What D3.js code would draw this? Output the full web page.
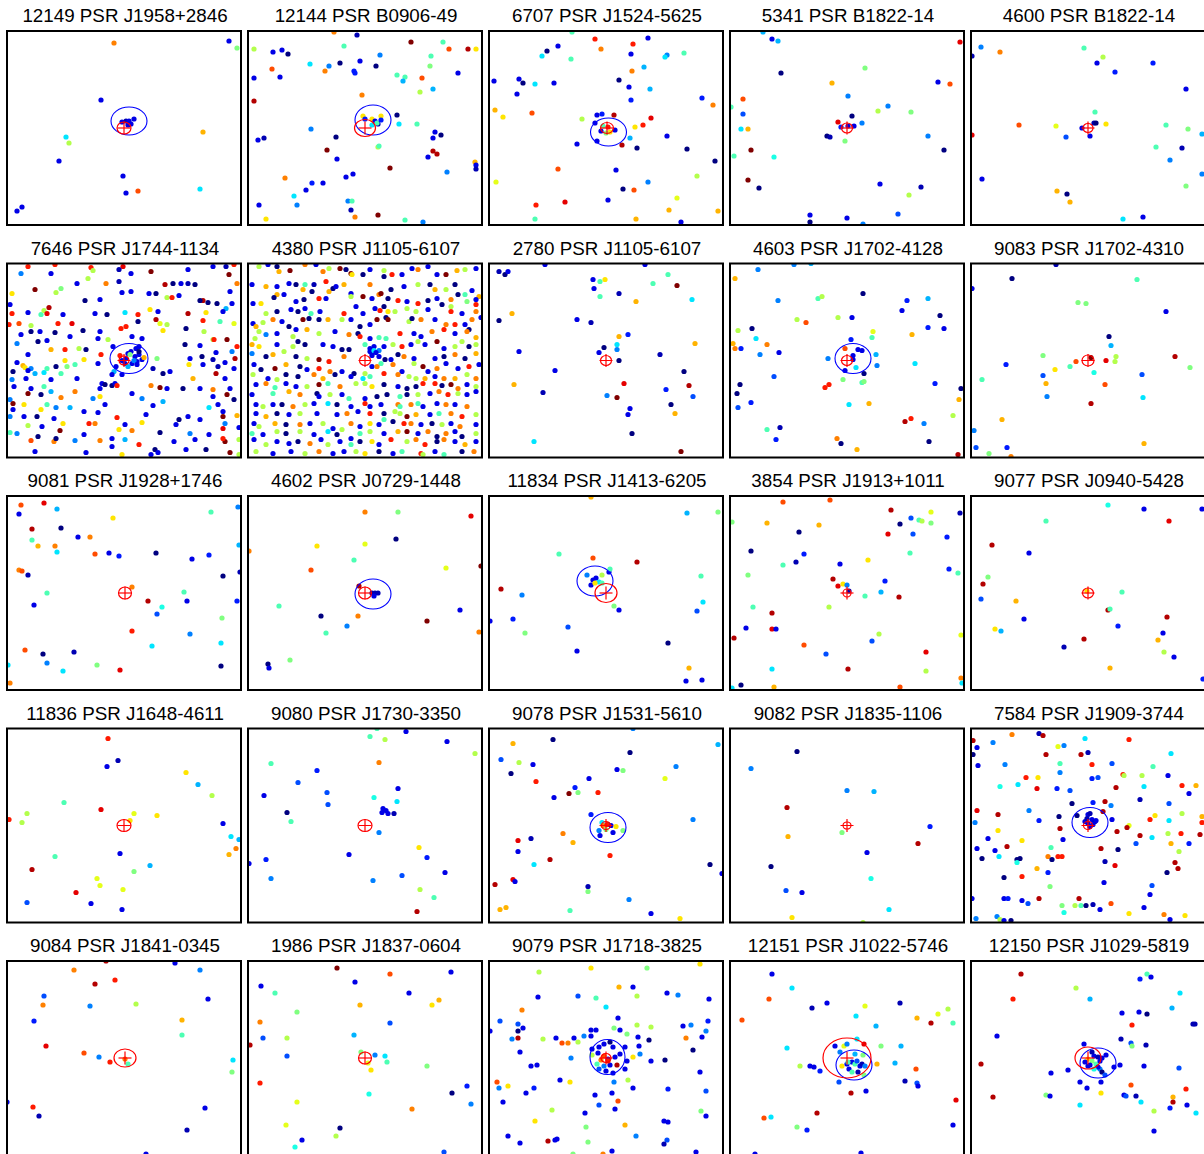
<!DOCTYPE html>
<html><head><meta charset="utf-8">
<script src="https://cdn.jsdelivr.net/npm/d3@7"></script>
<style>body{margin:0;background:#fff}svg{display:block}</style>
</head><body><svg id="chart" width="1204" height="1154"></svg>
<script>
// Field titles: observation id + pulsar name
const titles = [
  "12149 PSR J1958+2846","12144 PSR B0906-49","6707 PSR J1524-5625","5341 PSR B1822-14","4600 PSR B1822-14",
  "7646 PSR J1744-1134","4380 PSR J1105-6107","2780 PSR J1105-6107","4603 PSR J1702-4128","9083 PSR J1702-4310",
  "9081 PSR J1928+1746","4602 PSR J0729-1448","11834 PSR J1413-6205","3854 PSR J1913+1011","9077 PSR J0940-5428",
  "11836 PSR J1648-4611","9080 PSR J1730-3350","9078 PSR J1531-5610","9082 PSR J1835-1106","7584 PSR J1909-3744",
  "9084 PSR J1841-0345","1986 PSR J1837-0604","9079 PSR J1718-3825","12151 PSR J1022-5746","12150 PSR J1029-5819"
];

// Field grid: each field spans 234 x 194 grid units (x right, y down).
const FIELD_W = 234, FIELD_H = 194;

// Detected sources per field: [x, y, colour index 0..20 on the jet map]
const src12149 = [[107,12,15],[222,10,2],[230,17,10],[94,69,2],[115,91,2],[119,90,1],[122,90,2],[127,88,2],[124,93,2],[121,94,2],[59,106,7],[62,112,11],[196,101,14],[52,130,2],[116,145,2],[119,162,2],[131,160,16],[193,158,7],[15,176,2],[10,180,2]];
const src12144 = [[86,1,15],[109,4,1],[163,11,20],[195,11,9],[201,18,16],[220,18,19],[228,18,13],[6,18,11],[25,21,2],[34,19,2],[40,23,0],[96,15,9],[132,24,5],[183,25,9],[62,33,7],[81,35,5],[92,32,0],[112,30,2],[128,35,0],[182,35,10],[24,38,16],[77,40,15],[106,40,3],[107,42,3],[210,42,2],[149,44,9],[157,46,9],[174,47,16],[155,50,6],[6,47,2],[32,46,2],[185,58,6],[172,61,11],[114,64,15],[6,70,19],[115,85,13],[124,88,13],[133,85,13],[117,88,3],[127,90,2],[130,93,1],[129,92,9],[124,94,7],[133,89,3],[149,84,0],[151,93,7],[169,93,9],[63,98,5],[187,101,2],[193,104,0],[185,107,2],[88,106,0],[10,109,2],[16,107,1],[130,116,11],[131,115,9],[79,119,20],[89,128,2],[185,120,19],[189,123,19],[180,126,2],[227,131,14],[228,134,2],[228,138,1],[142,137,20],[199,141,5],[105,143,2],[98,146,2],[37,147,15],[75,152,2],[64,152,3],[58,159,2],[46,165,7],[49,174,5],[11,174,2],[100,170,5],[104,170,9],[103,179,1],[130,184,20],[107,186,15],[157,189,9],[175,191,5],[18,188,13]];
const src6707 = [[83,1,9],[106,8,17],[159,7,2],[144,13,17],[69,15,2],[58,20,0],[112,18,15],[142,23,2],[195,22,9],[178,24,5],[176,26,7],[53,25,7],[82,28,9],[155,36,6],[143,40,15],[5,50,2],[30,48,2],[34,52,0],[46,53,7],[65,52,2],[130,49,0],[140,56,2],[161,58,6],[28,63,2],[142,69,3],[213,67,3],[224,74,15],[6,79,14],[14,86,13],[43,82,16],[113,83,3],[108,84,2],[125,84,19],[93,88,11],[162,87,18],[154,94,17],[146,96,13],[106,92,2],[114,95,9],[121,101,13],[117,102,10],[126,99,2],[112,100,2],[119,96,17],[133,114,19],[148,117,0],[141,107,6],[108,110,2],[88,113,2],[178,105,2],[198,118,0],[226,130,0],[69,138,16],[127,139,2],[208,145,11],[7,151,12],[159,151,5],[134,158,0],[145,159,16],[119,169,2],[188,167,12],[76,171,18],[47,174,17],[180,179,14],[229,180,14],[46,188,9],[147,188,14],[192,191,2]];
const src5341 = [[33,1,6],[42,8,2],[48,10,6],[230,11,18],[51,42,0],[135,37,10],[102,52,14],[208,51,2],[220,53,16],[13,68,16],[118,65,5],[1,76,9],[13,83,4],[148,80,11],[158,75,5],[181,81,10],[122,85,0],[108,91,18],[132,92,5],[111,96,3],[118,95,2],[124,95,2],[11,98,7],[18,98,14],[97,105,0],[100,106,1],[115,110,10],[198,105,5],[214,119,0],[21,119,20],[4,125,9],[44,126,8],[18,149,20],[29,157,0],[150,153,2],[191,156,1],[179,164,11],[168,183,4],[80,184,2],[80,191,0],[117,187,2],[133,193,5]];
const src4600 = [[10,16,5],[1,25,1],[29,21,15],[113,17,9],[132,26,11],[126,32,2],[144,41,3],[182,32,3],[215,58,2],[124,81,9],[48,94,16],[85,95,12],[123,92,1],[125,92,0],[135,93,13],[111,97,2],[119,105,2],[95,106,4],[1,104,18],[195,94,9],[217,98,10],[231,103,6],[185,116,9],[211,117,1],[199,129,5],[231,143,5],[11,148,2],[215,155,10],[86,160,14],[96,163,0],[99,171,14],[152,188,7],[172,186,2]];
const src7646 = [[21,3,17],[48,1,17],[84,4,17],[116,3,18],[181,6,2],[206,3,2],[219,3,1],[227,1,17],[14,10,5],[44,10,2],[86,7,11],[112,6,1],[124,10,2],[144,8,20],[222,11,20],[5,30,13],[28,26,20],[49,29,11],[54,25,10],[70,20,2],[99,20,15],[81,15,11],[112,18,1],[115,29,2],[124,28,2],[142,30,2],[149,30,0],[158,21,19],[166,20,0],[174,20,2],[181,20,1],[188,21,0],[160,34,11],[165,34,17],[172,32,2],[230,20,15],[223,28,2],[93,36,2],[78,37,0],[3,41,2],[21,49,2],[34,51,9],[37,47,11],[40,50,18],[42,44,19],[5,50,17],[56,51,2],[88,50,2],[100,51,0],[118,49,7],[131,51,17],[143,46,13],[151,48,2],[181,50,19],[199,49,13],[196,37,19],[193,37,0],[201,39,0],[210,40,0],[219,45,6],[216,48,2],[225,40,2],[2,61,17],[12,60,16],[24,62,11],[51,60,17],[65,60,18],[76,67,0],[93,68,2],[114,65,17],[119,63,17],[131,58,0],[149,56,19],[153,60,12],[156,67,13],[160,61,11],[179,65,0],[196,57,17],[197,68,11],[213,58,9],[227,60,12],[14,71,2],[24,68,0],[33,68,2],[48,69,0],[63,73,2],[10,80,5],[31,78,0],[40,77,2],[91,75,2],[101,76,11],[106,83,2],[125,73,2],[135,75,2],[206,76,11],[207,76,17],[220,76,20],[178,81,0],[193,82,2],[230,83,17],[44,86,14],[58,86,17],[72,85,11],[79,86,0],[21,91,2],[94,91,17],[209,89,2],[225,88,5],[113,92,17],[119,95,2],[121,90,2],[124,88,2],[128,93,2],[130,98,2],[125,100,2],[132,91,2],[135,96,2],[118,100,2],[115,97,2],[129,85,2],[132,83,2],[123,91,10],[137,94,14],[132,88,0],[127,97,5],[130,101,2],[121,103,6],[150,95,10],[77,96,13],[58,97,13],[183,95,2],[195,93,0],[206,96,1],[218,99,2],[228,95,19],[10,99,2],[16,102,14],[18,104,13],[24,105,5],[40,105,9],[49,103,0],[60,103,10],[68,101,9],[91,100,2],[109,103,2],[107,108,6],[146,105,1],[156,110,0],[163,108,2],[182,101,13],[196,101,2],[211,103,1],[227,105,2],[6,108,0],[21,107,2],[28,110,6],[37,109,7],[54,110,9],[105,111,2],[115,111,2],[209,110,19],[186,115,14],[218,115,2],[5,116,5],[19,115,2],[44,116,2],[70,115,2],[95,120,2],[98,121,0],[105,122,0],[108,120,2],[93,125,2],[110,122,17],[144,122,15],[153,124,20],[7,123,2],[24,125,2],[37,123,9],[44,128,6],[68,128,15],[3,136,5],[21,130,20],[34,131,0],[54,134,15],[86,135,5],[93,133,13],[125,130,2],[135,135,5],[160,125,2],[176,125,0],[193,125,2],[206,126,15],[206,133,2],[220,131,20],[223,125,2],[227,136,0],[6,140,20],[17,141,13],[40,141,9],[49,144,5],[63,144,6],[77,148,2],[91,149,2],[98,141,2],[34,146,13],[6,146,2],[146,142,2],[156,138,6],[202,144,7],[211,141,2],[216,148,2],[3,153,5],[17,153,2],[30,153,0],[47,155,2],[110,154,17],[139,151,2],[172,156,0],[181,153,2],[216,153,20],[230,152,14],[21,162,11],[35,163,2],[82,160,17],[88,160,15],[56,160,13],[118,161,2],[135,159,13],[169,161,2],[193,156,2],[218,160,5],[112,166,13],[125,167,15],[53,167,20],[3,169,9],[10,170,5],[31,173,0],[77,171,2],[105,175,2],[153,169,0],[183,170,5],[202,171,2],[216,165,18],[232,164,2],[24,177,16],[47,178,15],[49,175,0],[68,177,5],[93,177,15],[118,176,6],[132,181,17],[105,183,2],[148,186,0],[144,191,2],[151,189,2],[167,178,2],[188,176,2],[218,178,20],[216,175,17],[232,176,11],[28,188,2],[79,189,2],[115,191,13],[179,186,2],[199,186,0],[223,189,20],[232,191,11]];
const src4380 = [[11,3,11],[20,1,2],[29,3,0],[31,8,14],[42,7,20],[57,1,15],[68,1,2],[75,8,15],[81,5,11],[92,5,20],[98,6,0],[103,10,20],[104,11,13],[115,11,0],[122,6,2],[136,7,11],[136,13,0],[144,11,17],[154,11,2],[164,5,2],[170,6,15],[180,3,2],[189,11,2],[198,11,20],[209,7,14],[217,6,11],[228,5,2],[4,21,2],[18,23,14],[29,23,2],[41,20,2],[48,21,0],[57,21,9],[55,26,14],[66,21,1],[64,28,0],[78,18,17],[81,28,14],[85,25,0],[88,23,2],[96,21,14],[103,30,2],[122,21,15],[131,31,15],[133,30,20],[143,26,0],[156,23,2],[170,21,11],[182,21,0],[187,26,14],[198,26,11],[207,21,0],[217,31,9],[224,27,2],[231,33,14],[5,40,2],[29,31,14],[13,40,13],[26,34,0],[36,31,2],[48,38,2],[56,36,0],[71,35,17],[78,35,2],[103,33,11],[115,33,20],[124,35,2],[140,35,0],[150,37,17],[159,38,2],[170,40,17],[180,37,0],[189,35,2],[203,36,15],[210,31,0],[219,38,10],[228,36,2],[18,50,11],[29,48,0],[43,46,2],[50,48,0],[57,45,2],[63,50,9],[72,48,2],[96,50,17],[108,43,2],[115,50,2],[127,45,2],[132,47,17],[140,48,13],[136,43,0],[147,48,11],[159,45,11],[168,48,11],[180,46,2],[194,41,0],[203,48,17],[203,43,11],[214,50,2],[228,48,15],[228,41,17],[5,60,2],[15,59,11],[8,63,14],[25,56,15],[34,58,2],[41,63,0],[48,66,2],[55,56,20],[61,55,0],[71,56,0],[80,56,14],[94,56,11],[103,56,2],[112,63,0],[122,61,2],[129,56,20],[138,54,0],[140,56,20],[161,58,11],[164,55,0],[173,56,15],[187,56,2],[198,61,15],[207,61,17],[217,61,2],[224,56,15],[233,54,2],[221,66,0],[11,68,11],[18,71,5],[7,75,11],[29,70,2],[45,73,11],[59,66,14],[71,70,11],[87,68,2],[101,71,15],[110,70,0],[112,73,17],[122,75,2],[131,74,9],[138,75,9],[152,70,17],[166,70,2],[173,73,2],[184,68,15],[196,66,17],[207,70,2],[219,68,15],[228,74,14],[4,81,14],[11,83,13],[29,81,2],[36,88,11],[45,83,11],[50,78,0],[57,81,0],[75,81,2],[85,83,2],[94,86,0],[101,86,0],[117,81,9],[122,85,2],[126,83,2],[124,90,2],[131,87,5],[136,83,2],[145,81,11],[154,83,17],[163,81,2],[170,78,11],[177,81,2],[189,78,20],[196,85,2],[207,83,11],[214,78,11],[221,83,0],[228,81,11],[4,90,5],[18,93,0],[25,91,14],[48,93,0],[59,95,11],[71,96,20],[81,98,17],[96,93,15],[131,93,2],[137,96,0],[143,96,2],[133,100,9],[150,91,0],[156,93,15],[166,95,2],[187,95,2],[196,93,0],[207,91,15],[217,95,0],[228,90,14],[122,88,2],[126,87,7],[124,92,2],[128,89,2],[6,101,2],[13,106,0],[27,105,20],[38,101,14],[52,103,0],[59,106,2],[71,105,17],[82,108,15],[94,108,2],[106,110,0],[117,110,11],[124,103,2],[129,103,15],[145,101,15],[154,108,2],[166,100,11],[175,103,20],[180,108,2],[189,105,15],[198,100,2],[210,105,2],[221,103,17],[231,101,2],[5,111,11],[20,115,2],[29,116,11],[38,111,0],[50,113,0],[66,111,15],[75,115,14],[87,111,0],[103,113,2],[115,115,7],[122,113,9],[136,110,17],[150,111,15],[161,113,11],[168,115,11],[177,115,14],[187,113,2],[196,115,15],[207,115,14],[219,111,11],[228,115,15],[8,121,2],[18,120,15],[27,124,9],[38,120,2],[48,123,2],[59,123,11],[71,121,20],[80,120,9],[92,123,15],[108,120,11],[117,120,11],[124,123,13],[136,121,0],[150,123,2],[159,125,0],[168,123,0],[175,120,17],[187,120,17],[194,122,0],[203,121,20],[210,125,15],[219,121,2],[228,123,11],[4,131,2],[25,130,9],[41,128,14],[52,131,15],[69,130,0],[71,133,2],[82,131,11],[94,131,2],[101,135,9],[117,135,2],[129,133,0],[139,131,0],[152,133,9],[159,131,0],[170,131,11],[182,130,2],[191,128,15],[200,131,17],[210,130,11],[219,131,2],[228,128,2],[8,141,2],[15,143,11],[25,141,2],[34,141,0],[45,143,15],[57,141,11],[66,140,2],[80,140,7],[89,141,0],[103,143,2],[117,140,17],[122,143,2],[133,141,2],[150,141,15],[152,143,9],[163,141,15],[170,140,9],[175,143,2],[189,140,2],[198,141,15],[207,141,2],[219,143,15],[8,150,2],[18,153,14],[29,150,0],[41,151,2],[52,150,11],[69,150,2],[89,151,2],[99,150,15],[110,148,2],[122,150,17],[136,150,0],[147,148,11],[152,150,11],[159,153,20],[168,151,14],[182,151,2],[191,150,9],[203,150,15],[214,153,17],[228,151,11],[6,160,2],[11,163,11],[27,160,14],[38,161,0],[52,161,15],[62,160,2],[75,160,11],[85,165,2],[94,166,11],[103,160,15],[112,163,2],[122,160,13],[131,161,2],[136,156,9],[145,158,0],[156,160,17],[163,160,15],[173,161,2],[184,160,0],[194,161,11],[203,160,2],[212,163,15],[228,161,2],[4,170,9],[15,171,2],[29,168,11],[38,170,0],[52,168,11],[66,171,2],[80,168,7],[89,171,0],[103,175,2],[112,170,9],[122,168,11],[136,170,2],[150,168,14],[159,168,20],[170,170,2],[180,168,15],[189,173,0],[198,170,15],[207,168,2],[214,173,0],[228,170,11],[6,176,2],[18,181,11],[29,178,2],[41,180,2],[50,178,0],[62,180,15],[73,176,2],[80,181,11],[92,178,2],[103,181,9],[112,178,0],[124,178,13],[131,181,2],[143,176,17],[159,178,11],[168,176,15],[177,181,17],[189,178,0],[196,176,15],[207,178,2],[217,181,14],[228,178,2],[8,188,11],[25,190,2],[43,188,2],[57,190,11],[71,188,15],[85,190,2],[96,188,2],[108,188,11],[117,190,13],[131,188,0],[145,190,2],[154,188,9],[173,190,17],[175,191,11],[187,188,2],[196,191,9],[214,188,0],[226,188,15]];
const src2780 = [[10,8,1],[16,11,0],[19,8,2],[56,1,2],[156,1,2],[104,16,2],[111,18,9],[116,16,13],[164,20,9],[179,11,9],[188,22,20],[105,25,2],[111,33,9],[130,30,1],[147,38,14],[203,36,7],[23,50,14],[10,57,0],[88,56,2],[102,59,1],[139,71,3],[130,73,14],[128,81,7],[115,84,0],[110,89,2],[128,86,5],[130,97,0],[30,88,2],[206,80,14],[171,91,1],[66,107,2],[195,108,0],[135,120,18],[25,121,14],[54,129,1],[177,126,3],[200,122,19],[118,132,5],[128,134,20],[204,133,4],[141,145,2],[139,151,2],[182,141,0],[186,150,14],[143,170,0],[45,178,7],[192,188,20]];
const src4603 = [[28,6,5],[64,1,5],[81,0,6],[5,15,14],[133,30,0],[48,37,5],[88,35,9],[92,33,11],[177,37,3],[198,35,6],[172,47,2],[210,52,0],[67,56,11],[76,59,16],[108,54,11],[122,54,2],[22,65,0],[8,67,11],[198,64,3],[214,65,2],[143,68,12],[142,74,9],[182,71,14],[26,75,7],[121,76,3],[37,81,15],[3,80,14],[5,85,15],[11,85,3],[30,91,5],[49,89,2],[115,85,16],[128,86,2],[132,87,2],[123,92,2],[123,96,2],[98,95,5],[126,104,7],[115,107,2],[146,91,6],[147,102,5],[134,110,0],[113,116,10],[132,119,9],[134,118,10],[185,100,7],[44,113,4],[95,124,17],[99,121,17],[205,120,3],[231,125,0],[10,121,0],[7,130,0],[21,139,3],[8,144,4],[119,141,7],[139,140,14],[229,136,14],[223,152,11],[175,158,19],[181,155,17],[194,160,5],[37,166,9],[50,164,1],[46,176,3],[107,175,15],[111,180,0],[127,186,14],[199,178,0],[228,191,19]];
const src9083 = [[85,1,1],[1,25,2],[41,15,0],[166,16,9],[107,39,10],[115,40,10],[195,48,2],[138,73,0],[140,82,6],[72,92,10],[35,101,3],[105,98,16],[120,94,20],[135,97,18],[145,93,11],[144,98,11],[99,103,9],[84,106,13],[72,112,4],[123,109,8],[204,93,19],[219,104,10],[11,116,9],[75,120,14],[171,111,4],[134,121,16],[76,133,5],[172,134,7],[120,140,19],[31,156,14],[3,167,5],[5,184,4],[36,184,3],[18,190,10],[40,193,15],[173,180,14]];
const src9081 = [[14,9,16],[37,7,18],[50,13,6],[12,18,2],[106,22,13],[204,16,9],[231,11,5],[25,33,19],[54,32,0],[25,44,9],[31,50,14],[48,50,15],[50,56,7],[71,41,2],[83,41,15],[88,58,16],[102,57,2],[112,60,3],[149,57,0],[185,63,2],[202,59,3],[232,49,6],[12,74,15],[15,75,16],[21,79,1],[216,80,0],[233,76,1],[40,97,9],[125,91,15],[177,96,9],[27,109,2],[141,105,19],[155,111,8],[150,118,4],[180,105,2],[230,105,3],[215,122,10],[125,135,17],[183,138,5],[145,150,7],[214,147,7],[18,154,16],[36,158,0],[67,156,1],[40,167,5],[56,175,7],[90,169,10],[113,174,18],[214,170,0],[3,187,15],[1,169,7]];
const src4602 = [[117,16,15],[150,16,10],[223,20,18],[148,43,0],[69,50,13],[117,48,12],[106,64,9],[63,74,16],[198,72,12],[233,70,20],[1,55,15],[111,90,19],[124,97,1],[127,97,1],[130,97,1],[126,100,2],[31,110,9],[73,120,0],[110,120,15],[99,130,5],[78,137,9],[179,125,20],[212,114,2],[231,136,15],[42,164,10],[20,168,0],[21,172,2]];
const src11834 = [[102,1,14],[198,17,6],[229,16,10],[70,58,9],[104,62,16],[148,66,19],[212,80,9],[12,93,19],[33,99,5],[214,106,7],[208,115,4],[1,125,2],[24,123,3],[36,137,10],[79,131,4],[88,155,2],[125,110,10],[130,114,2],[179,147,0],[200,172,14],[197,185,2],[213,184,2],[98,79,5],[104,84,2],[107,82,2],[113,79,11],[120,76,2],[121,73,9],[110,86,7],[102,89,2],[106,87,13],[113,87,9]];
const src3854 = [[53,6,16],[100,4,16],[161,14,19],[201,16,12],[230,17,1],[2,26,10],[37,27,14],[89,29,14],[170,28,0],[181,22,4],[189,24,9],[192,25,11],[201,27,10],[69,36,0],[158,38,18],[183,38,4],[217,41,3],[21,55,0],[74,58,3],[66,66,1],[53,69,9],[180,57,9],[138,64,13],[110,68,2],[219,73,3],[228,77,9],[18,79,10],[103,83,19],[108,90,18],[113,88,13],[117,89,5],[119,95,1],[155,85,3],[151,96,6],[135,100,9],[169,101,19],[99,111,11],[23,111,9],[42,117,19],[16,132,2],[42,133,18],[46,133,2],[4,142,19],[74,149,16],[96,158,4],[142,145,4],[149,138,11],[196,156,18],[231,139,12],[42,173,7],[118,173,19],[196,175,11],[231,182,15],[232,187,7],[11,189,0],[44,191,14],[170,191,16],[2,192,7]];
const src9077 = [[137,9,8],[173,13,2],[231,13,2],[75,25,9],[198,25,18],[21,49,19],[58,57,2],[17,81,10],[12,88,19],[10,103,4],[45,105,14],[116,95,13],[151,96,9],[137,114,19],[139,113,9],[196,121,19],[53,123,2],[147,130,3],[24,133,13],[30,135,6],[113,143,19],[93,151,1],[192,137,2],[187,144,14],[193,156,11],[203,161,2],[139,172,14],[232,183,3]];
const src11836 = [[101,10,17],[111,32,1],[100,38,2],[179,44,13],[191,56,6],[205,67,11],[57,74,9],[94,81,18],[20,85,11],[15,94,11],[2,91,17],[127,85,12],[150,87,13],[123,92,13],[216,95,2],[224,108,7],[232,111,6],[229,120,15],[222,126,14],[113,125,2],[48,128,9],[25,141,19],[127,143,10],[143,137,6],[90,150,12],[93,157,12],[116,161,12],[69,164,18],[84,175,2],[20,174,4],[115,181,2]];
const src9080 = [[129,0,9],[158,3,2],[122,8,9],[137,11,11],[199,13,2],[227,25,11],[23,35,9],[69,42,3],[131,34,15],[50,54,4],[16,67,2],[79,64,4],[80,76,4],[150,60,2],[126,69,8],[149,73,7],[135,80,2],[138,82,2],[134,84,2],[140,85,2],[146,85,1],[39,84,0],[43,93,9],[131,104,5],[101,126,2],[18,131,3],[1,135,2],[23,150,5],[171,119,13],[179,129,3],[197,144,2],[154,147,4],[125,152,5],[172,161,11],[186,169,9],[169,183,19]];
const src9078 = [[144,0,5],[64,11,0],[24,15,14],[141,24,0],[229,16,6],[12,31,4],[30,34,11],[44,36,2],[22,45,0],[128,41,2],[134,42,10],[187,38,5],[176,50,12],[100,50,2],[47,53,17],[86,59,3],[80,65,20],[89,64,10],[109,64,17],[65,69,2],[102,86,3],[204,91,5],[113,94,7],[119,96,0],[122,97,2],[127,98,13],[114,97,15],[110,102,5],[117,101,10],[124,104,2],[111,107,2],[134,102,10],[118,96,17],[74,105,15],[84,114,14],[42,110,1],[29,112,18],[29,123,2],[45,136,7],[61,131,19],[121,127,17],[221,136,0],[233,145,2],[6,156,19],[24,151,18],[26,153,2],[99,158,1],[99,163,10],[140,171,5],[81,182,9],[11,181,14],[17,179,14],[162,185,2],[191,190,13]];
const src9082 = [[67,23,0],[21,40,5],[117,62,5],[144,63,6],[57,79,19],[112,104,10],[58,108,14],[200,98,3],[188,115,19],[137,124,2],[41,138,0],[141,150,8],[56,162,4],[72,164,2],[159,181,7],[62,189,13],[133,194,11]];
const src7584 = [[2,12,19],[6,19,2],[2,26,0],[7,37,2],[22,14,5],[41,6,15],[68,5,1],[72,7,19],[75,26,19],[87,18,12],[93,17,5],[114,10,7],[110,26,19],[117,24,1],[158,11,17],[34,36,5],[89,35,9],[89,44,5],[121,36,17],[141,35,4],[200,25,7],[182,38,9],[152,46,17],[153,47,11],[171,47,11],[197,47,2],[55,49,17],[67,49,13],[29,58,8],[47,56,7],[66,60,18],[86,60,3],[99,62,4],[121,50,3],[127,49,4],[145,59,19],[173,58,7],[211,57,17],[225,57,14],[218,65,2],[101,75,0],[122,74,3],[134,73,19],[140,77,5],[169,71,1],[198,75,4],[6,82,18],[27,86,19],[58,82,5],[4,94,5],[68,92,3],[88,88,0],[106,87,0],[132,83,19],[117,86,2],[119,85,1],[114,93,2],[117,95,2],[121,91,2],[124,93,1],[119,98,2],[122,96,2],[116,90,1],[125,92,2],[141,91,2],[158,97,12],[156,99,19],[184,87,13],[179,91,17],[198,92,7],[211,85,11],[231,88,14],[231,94,17],[89,100,19],[146,103,19],[169,107,19],[181,109,7],[197,105,11],[210,105,17],[229,106,19],[27,102,13],[17,110,2],[51,112,13],[92,111,2],[165,115,4],[200,115,14],[218,115,3],[6,120,2],[24,122,2],[36,118,19],[80,119,9],[130,120,19],[147,121,0],[208,123,11],[28,128,7],[11,130,0],[46,131,0],[49,130,0],[46,134,8],[77,128,15],[81,131,0],[87,128,17],[91,128,17],[134,133,1],[144,137,18],[204,134,19],[207,140,19],[196,144,0],[66,140,14],[77,144,3],[33,149,0],[51,148,17],[133,154,2],[79,158,10],[181,157,4],[179,166,2],[1,170,2],[33,170,2],[37,170,3],[51,172,2],[57,175,4],[68,170,19],[108,170,19],[91,177,10],[93,184,8],[104,177,11],[110,177,9],[115,177,0],[122,176,1],[129,181,2],[140,175,16],[173,179,2],[158,185,13],[193,186,15],[214,187,13],[199,191,2],[5,190,5],[26,188,5],[29,191,11],[33,192,2],[40,192,0]];
const src9084 = [[99,0,19],[67,9,15],[88,23,19],[108,19,17],[168,2,2],[193,9,5],[37,35,4],[36,44,15],[83,45,5],[129,43,11],[201,38,2],[27,60,3],[175,59,14],[175,74,9],[39,85,18],[77,92,16],[92,96,5],[103,101,17],[118,98,15],[121,103,9],[226,99,7],[225,111,10],[0,141,2],[26,146,17],[32,155,1],[198,147,2],[180,169,1],[139,193,2]];
const src1986 = [[89,7,20],[142,13,16],[203,11,2],[13,25,2],[27,32,9],[107,21,2],[161,32,2],[191,39,14],[184,44,13],[112,44,14],[49,51,10],[12,61,15],[142,62,4],[15,77,4],[39,77,11],[106,74,6],[2,84,19],[39,95,4],[113,91,10],[127,94,5],[137,95,7],[139,101,9],[120,102,12],[123,109,13],[179,105,10],[12,122,17],[121,133,8],[219,125,3],[204,132,0],[223,143,5],[49,141,12],[164,148,15],[38,164,12],[92,167,0],[88,175,11],[54,179,2],[47,186,8],[196,191,4]];
const src9079 = [[50,11,11],[102,7,13],[158,7,10],[211,3,13],[130,26,14],[144,26,2],[49,36,2],[89,35,4],[107,37,9],[117,46,7],[148,35,11],[178,32,2],[189,34,5],[220,38,2],[33,49,15],[129,57,2],[11,60,4],[29,63,4],[34,67,2],[29,70,0],[1,70,2],[148,64,11],[162,66,11],[194,65,2],[202,64,5],[219,60,3],[217,70,5],[23,78,5],[29,77,19],[54,78,11],[67,77,2],[73,82,16],[79,82,15],[85,77,2],[89,81,11],[95,75,5],[102,69,2],[107,69,2],[102,75,2],[125,67,10],[131,69,2],[138,73,10],[149,76,2],[160,79,0],[197,77,15],[213,76,2],[204,89,0],[31,91,2],[82,97,5],[103,94,11],[110,86,2],[115,83,2],[121,81,0],[124,86,2],[109,92,2],[115,95,16],[112,99,15],[119,98,2],[126,96,2],[131,93,2],[128,104,19],[121,104,2],[115,105,5],[124,112,2],[117,110,2],[110,108,4],[136,86,2],[138,100,2],[103,88,2],[108,103,9],[119,100,17],[136,108,2],[150,85,2],[151,93,5],[144,96,13],[162,100,2],[176,99,0],[42,105,2],[48,104,2],[71,119,2],[81,121,13],[125,121,5],[139,119,11],[144,127,2],[211,111,2],[8,121,16],[10,127,5],[19,125,13],[37,132,2],[45,127,3],[106,134,2],[123,132,2],[129,140,16],[110,144,4],[126,148,2],[179,128,3],[217,130,4],[14,141,2],[63,149,11],[96,152,2],[212,150,10],[217,155,2],[46,160,13],[136,164,14],[97,166,10],[175,160,2],[179,161,2],[19,175,2],[31,182,2],[59,180,19],[66,179,2],[68,178,2],[99,181,10],[147,175,5],[178,179,4],[175,183,1],[123,190,2],[114,193,15],[207,191,2],[84,193,10]];
const src12151 = [[42,13,2],[62,27,7],[39,38,16],[12,59,16],[82,47,1],[97,42,2],[135,45,12],[126,55,7],[170,42,1],[146,65,6],[187,57,14],[201,62,19],[208,53,12],[218,48,11],[223,62,9],[57,87,7],[105,85,2],[114,85,12],[117,83,5],[127,78,7],[134,83,18],[110,91,5],[151,85,10],[171,85,6],[70,105,11],[80,105,2],[84,106,2],[90,110,3],[112,105,13],[117,103,2],[122,101,2],[125,103,9],[127,100,4],[130,105,2],[132,103,1],[119,108,2],[122,111,9],[128,111,1],[134,114,10],[125,93,6],[133,94,10],[135,105,5],[118,101,9],[147,103,14],[165,102,6],[186,108,16],[109,121,4],[121,132,19],[136,130,2],[175,120,1],[187,122,4],[188,125,2],[226,139,18],[87,152,19],[34,157,16],[41,156,7],[67,166,10],[77,169,3],[223,164,2],[25,193,2],[131,192,2]];
const src12150 = [[50,13,19],[176,13,9],[180,16,2],[169,18,3],[105,27,11],[119,38,6],[42,38,17],[209,32,7],[201,47,6],[151,52,2],[168,51,2],[176,53,0],[161,64,17],[222,63,1],[224,63,1],[26,75,2],[150,78,1],[160,82,4],[161,85,10],[175,84,1],[113,83,2],[10,103,19],[117,98,13],[121,100,10],[123,95,2],[127,96,1],[119,104,2],[125,103,9],[129,100,2],[129,108,5],[131,111,0],[127,106,2],[123,108,8],[135,94,2],[134,114,4],[117,105,2],[114,101,2],[121,91,1],[131,97,2],[143,106,2],[149,104,2],[173,105,2],[208,107,4],[80,112,2],[97,109,2],[109,121,2],[116,127,2],[130,121,2],[160,124,16],[130,132,13],[153,134,2],[155,135,4],[165,135,1],[170,141,7],[75,134,10],[79,135,2],[22,136,19],[109,144,7],[183,150,11],[202,136,14],[202,141,19],[215,128,17],[199,147,3],[216,144,2],[225,152,7],[183,170,2]];

const fieldSources = [src12149,src12144,src6707,src5341,src4600,src7646,src4380,src2780,src4603,src9083,
  src9081,src4602,src11834,src3854,src9077,src11836,src9080,src9078,src9082,src7584,
  src9084,src1986,src9079,src12151,src12150];

// Pulsar timing position with its error ellipse: [x, y, rx, ry]
const pulsarErr = [[117,97,7,6],[117,97,10.5,8.5],[118,97,6.5,5.5],[117,97,5.5,5],[117,97,5,4.5],
  [117,97,5,4.5],[117,97,5.5,5],[117,97,5.5,5],[117,97,5.5,5],[117,97,6,5.5],
  [118,97,6.5,6],[117,97,6.5,6],[117,97,11,9.5],[117,97,4,4],[117,97,5.5,5],
  [117,97,7,6],[117,97,7,6],[117,97,4.5,4],[117,97,4,3.5],[117,97,4.5,4],
  [118,97,11,9],[117,97,6.5,6],[117,97,5,4.5],[117,97,24,20],[117,97,13,11]];

// Fitted source-cluster ellipse where one was found: [x, y, rx, ry]
const clusterFits = [[122,90,18,14],[125,89,18,15],[119.5,101,18,14],null,null,
  [122,95,19,15],null,null,[123,95,18,15],null,
  null,[125,98,18,15],[106,85,18,15],null,null,
  null,null,[119,99,18,15],null,[119,94,18,15],
  null,null,[118.5,96,17.5,17.5],[124,104,18,15],[127,102,18,15]];

const CROSS_ARM = 6.5; // half-length of the position cross, grid units

// classic jet colour map
function jet(t) {
  const cl = v => Math.max(0, Math.min(1, v));
  const r = cl(1.5 - Math.abs(4 * t - 3));
  const g = cl(1.5 - Math.abs(4 * t - 2));
  const b = cl(1.5 - Math.abs(4 * t - 1));
  return d3.rgb(r * 255, g * 255, b * 255).formatHex();
}
const colourScale = d3.scaleLinear().domain([0, 20]).range([0, 1]);

const svg = d3.select("#chart");
const colPos = d3.scaleLinear().domain([0, 4]).range([7, 971]);
const rowPos = d3.scaleLinear().domain([0, 4]).range([31, 961]);
const x = d3.scaleLinear().domain([0, FIELD_W]).range([0, 234]);
const y = d3.scaleLinear().domain([0, FIELD_H]).range([0, 194]);
const W = x(FIELD_W), H = y(FIELD_H);

titles.forEach((title, i) => {
  const col = i % 5, row = Math.floor(i / 5);
  const g = svg.append("g").attr("transform", `translate(${colPos(col)},${rowPos(row)})`);
  const clipId = "clip" + i;
  g.append("clipPath").attr("id", clipId).append("rect").attr("width", W).attr("height", H);

  g.append("text")
    .attr("x", W / 2 + 1).attr("y", -9)
    .attr("text-anchor", "middle")
    .attr("font-family", "Liberation Sans, Arial, Helvetica, sans-serif")
    .attr("font-size", 18.8)
    .attr("fill", "#000")
    .text(title);

  const plot = g.append("g").attr("clip-path", `url(#${clipId})`);
  plot.selectAll("circle.src").data(fieldSources[i]).join("circle")
    .attr("class", "src")
    .attr("cx", d => x(d[0])).attr("cy", d => y(d[1]))
    .attr("r", 2.6)
    .attr("fill", d => jet(colourScale(d[2])));

  const cf = clusterFits[i];
  if (cf) {
    plot.append("ellipse")
      .attr("cx", x(cf[0])).attr("cy", y(cf[1]))
      .attr("rx", x(cf[2]) - x(0)).attr("ry", y(cf[3]) - y(0))
      .attr("fill", "none").attr("stroke", "#0000ff").attr("stroke-width", 1.1);
  }
  const pe = pulsarErr[i];
  plot.append("ellipse")
    .attr("cx", x(pe[0])).attr("cy", y(pe[1]))
    .attr("rx", x(pe[2]) - x(0)).attr("ry", y(pe[3]) - y(0))
    .attr("fill", "none").attr("stroke", "#ff0000").attr("stroke-width", 1.2);
  plot.append("line")
    .attr("x1", x(pe[0] - CROSS_ARM)).attr("x2", x(pe[0] + CROSS_ARM))
    .attr("y1", y(pe[1])).attr("y2", y(pe[1]))
    .attr("stroke", "#ff0000").attr("stroke-width", 1.2);
  plot.append("line")
    .attr("x1", x(pe[0])).attr("x2", x(pe[0]))
    .attr("y1", y(pe[1] - CROSS_ARM)).attr("y2", y(pe[1] + CROSS_ARM))
    .attr("stroke", "#ff0000").attr("stroke-width", 1.2);

  g.append("rect")
    .attr("width", W).attr("height", H)
    .attr("fill", "none").attr("stroke", "#000").attr("stroke-width", 2);
});
</script>
</body></html>
